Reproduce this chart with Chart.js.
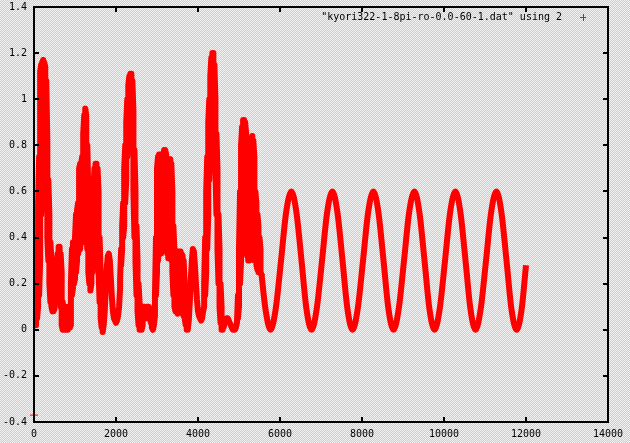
<!DOCTYPE html>
<html>
<head>
<meta charset="utf-8">
<script src="https://cdn.jsdelivr.net/npm/chart.js@4"></script>
<style>
  html, body { margin: 0; padding: 0; background: #e2e2e2; }
  canvas { display: block; }
</style>
</head>
<body>
<canvas id="plot" width="630" height="443"></canvas>
<script>
// sample positions of the irregular part (columns 0..5550)
const xs = [
  0, 25, 50, 75, 100, 125, 150, 175, 200, 225,
  250, 275, 300, 325, 350, 375, 400, 425, 450, 475,
  500, 525, 550, 575, 600, 625, 650, 675, 700, 725,
  750, 775, 800, 825, 850, 875, 900, 925, 950, 975,
  1000, 1025, 1050, 1075, 1100, 1125, 1150, 1175, 1200, 1225,
  1250, 1275, 1300, 1325, 1350, 1375, 1400, 1425, 1450, 1475,
  1500, 1525, 1550, 1575, 1600, 1625, 1650, 1675, 1700, 1725,
  1750, 1775, 1800, 1825, 1850, 1875, 1900, 1925, 1950, 1975,
  2000, 2025, 2050, 2075, 2100, 2125, 2150, 2175, 2200, 2225,
  2250, 2275, 2300, 2325, 2350, 2375, 2400, 2425, 2450, 2475,
  2500, 2525, 2550, 2575, 2600, 2625, 2650, 2675, 2700, 2725,
  2750, 2775, 2800, 2825, 2850, 2875, 2900, 2925, 2950, 2975,
  3000, 3025, 3050, 3075, 3100, 3125, 3150, 3175, 3200, 3225,
  3250, 3275, 3300, 3325, 3350, 3375, 3400, 3425, 3450, 3475,
  3500, 3525, 3550, 3575, 3600, 3625, 3650, 3675, 3700, 3725,
  3750, 3775, 3800, 3825, 3850, 3875, 3900, 3925, 3950, 3975,
  4000, 4025, 4050, 4075, 4100, 4125, 4150, 4175, 4200, 4225,
  4250, 4275, 4300, 4325, 4350, 4375, 4400, 4425, 4450, 4475,
  4500, 4525, 4550, 4575, 4600, 4625, 4650, 4675, 4700, 4725,
  4750, 4775, 4800, 4825, 4850, 4875, 4900, 4925, 4950, 4975,
  5000, 5025, 5050, 5075, 5100, 5125, 5150, 5175, 5200, 5225,
  5250, 5275, 5300, 5325, 5350, 5375, 5400, 5425, 5450, 5475,
  5500, 5525, 5550
];
// lower edge of the scattered band at each column
const lows = [
  0.27, 0.02, 0.02, 0.05, 0.1, 0.15, 0.3, 0.5, 0.6, 0.7,
  0.75, 0.7, 0.55, 0.4, 0.3, 0.2, 0.12, 0.1, 0.08, 0.08,
  0.09, 0.12, 0.15, 0.2, 0.22, 0.2, 0.1, 0.02, 0, 0,
  0, 0.02, 0, 0, 0.02, 0.01, 0.02, 0.15, 0.18, 0.2,
  0.22, 0.25, 0.3, 0.33, 0.35, 0.35, 0.4, 0.4, 0.38, 0.45,
  0.5, 0.45, 0.35, 0.25, 0.2, 0.17, 0.2, 0.25, 0.3, 0.35,
  0.4, 0.45, 0.35, 0.25, 0.12, 0.05, 0.01, -0.01, 0.02, 0.08,
  0.18, 0.27, 0.32, 0.33, 0.3, 0.22, 0.14, 0.08, 0.05, 0.04,
  0.03, 0.04, 0.06, 0.1, 0.18, 0.28, 0.35, 0.4, 0.45, 0.55,
  0.65, 0.75, 0.85, 0.9, 0.95, 0.9, 0.8, 0.6, 0.4, 0.3,
  0.15, 0.08, 0.02, 0, 0.02, 0, 0.02, 0.05, 0.06, 0.05,
  0.05, 0.07, 0.08, 0.06, 0.03, 0.01, 0, 0.02, 0.06, 0.15,
  0.25, 0.3, 0.38, 0.35, 0.33, 0.35, 0.4, 0.45, 0.4, 0.35,
  0.33, 0.31, 0.32, 0.33, 0.3, 0.25, 0.15, 0.1, 0.08, 0.08,
  0.07, 0.08, 0.08, 0.08, 0.08, 0.07, 0.06, 0.05, 0.02, 0,
  0, 0.04, 0.12, 0.22, 0.3, 0.35, 0.34, 0.28, 0.2, 0.13,
  0.08, 0.06, 0.05, 0.04, 0.05, 0.08, 0.1, 0.15, 0.25, 0.35,
  0.5, 0.65, 0.8, 0.95, 1.05, 1.05, 0.9, 0.7, 0.5, 0.35,
  0.2, 0.1, 0.03, 0, 0, 0.01, 0.03, 0.04, 0.05, 0.05,
  0.04, 0.03, 0.02, 0.01, 0, 0, 0, 0.01, 0.03, 0.05,
  0.1, 0.2, 0.3, 0.35, 0.4, 0.42, 0.4, 0.35, 0.32, 0.3,
  0.3, 0.32, 0.34, 0.35, 0.33, 0.3, 0.3, 0.28, 0.26, 0.25,
  0.25, 0.25, 0.24
];
// upper edge of the scattered band at each column
const highs = [
  0.27, 0.27, 0.3, 0.4, 0.55, 0.75, 1.12, 1.15, 1.16, 1.17,
  1.16, 1.14, 1.08, 0.82, 0.65, 0.5, 0.38, 0.3, 0.22, 0.2,
  0.2, 0.22, 0.28, 0.33, 0.36, 0.36, 0.33, 0.25, 0.12, 0.08,
  0.1, 0.1, 0.08, 0.1, 0.09, 0.1, 0.2, 0.35, 0.38, 0.38,
  0.4, 0.5, 0.52, 0.55, 0.7, 0.72, 0.72, 0.75, 0.85, 0.93,
  0.96, 0.93, 0.8, 0.6, 0.45, 0.38, 0.4, 0.5, 0.62, 0.7,
  0.72, 0.72, 0.7, 0.6, 0.4, 0.25, 0.12, 0.05, 0.02, 0.08,
  0.18, 0.27, 0.32, 0.33, 0.3, 0.22, 0.14, 0.08, 0.05, 0.04,
  0.03, 0.04, 0.06, 0.1, 0.22, 0.35, 0.45, 0.55, 0.7, 0.8,
  0.9, 1.0, 1.06, 1.1, 1.11, 1.11, 1.08, 0.95, 0.78, 0.6,
  0.45, 0.3, 0.2, 0.12, 0.1, 0.08, 0.1, 0.1, 0.1, 0.09,
  0.1, 0.1, 0.1, 0.09, 0.06, 0.02, 0, 0.02, 0.15, 0.4,
  0.7, 0.75, 0.76, 0.76, 0.75, 0.74, 0.76, 0.78, 0.78, 0.76,
  0.74, 0.73, 0.72, 0.74, 0.72, 0.6, 0.45, 0.35, 0.34, 0.34,
  0.34, 0.34, 0.34, 0.34, 0.33, 0.32, 0.3, 0.2, 0.15, 0.05,
  0, 0.04, 0.12, 0.22, 0.3, 0.35, 0.34, 0.28, 0.2, 0.13,
  0.08, 0.06, 0.05, 0.04, 0.05, 0.08, 0.2, 0.4, 0.6, 0.75,
  0.9, 1.0, 1.1, 1.18, 1.2, 1.2, 1.15, 1.0, 0.85, 0.7,
  0.5, 0.35, 0.2, 0.1, 0.02, 0.01, 0.03, 0.04, 0.05, 0.05,
  0.04, 0.03, 0.02, 0.01, 0, 0, 0, 0.01, 0.03, 0.15,
  0.35, 0.6, 0.8, 0.88, 0.91, 0.91, 0.9, 0.85, 0.75, 0.68,
  0.7, 0.78, 0.83, 0.84, 0.82, 0.75, 0.6, 0.55, 0.5, 0.45,
  0.4, 0.35, 0.24
];
// the regular oscillation after ~5500
const waveX = [
  5550, 5645, 5770, 5895, 6025, 6150, 6280, 6400, 6525, 6645,
  6770, 6895, 7025, 7150, 7280, 7400, 7525, 7645,
  7770, 7895, 8025, 8150, 8280, 8400, 8525, 8645,
  8770, 8895, 9025, 9150, 9280, 9400, 9525, 9645,
  9770, 9895, 10025, 10150, 10280, 10400, 10525, 10645,
  10770, 10895, 11025, 11150, 11280, 11400, 11525, 11645,
  11770, 11895, 12000
];
const waveY = [
  0.24, 0.09, 0, 0.09, 0.3, 0.51, 0.6, 0.51, 0.3, 0.09,
  0, 0.09, 0.3, 0.51, 0.6, 0.51, 0.3, 0.09,
  0, 0.09, 0.3, 0.51, 0.6, 0.51, 0.3, 0.09,
  0, 0.09, 0.3, 0.51, 0.6, 0.51, 0.3, 0.09,
  0, 0.09, 0.3, 0.51, 0.6, 0.51, 0.3, 0.09,
  0, 0.09, 0.3, 0.51, 0.6, 0.51, 0.3, 0.09,
  0, 0.09, 0.28
];
const strayX = [0];
const strayY = [-0.37];

const xTicks = [0, 2000, 4000, 6000, 8000, 10000, 12000, 14000];
const yTicks = [-0.4, -0.2, 0, 0.2, 0.4, 0.6, 0.8, 1, 1.2, 1.4];
const seriesLabel = '"kyori322-1-8pi-ro-0.0-60-1.dat" using 2';

// zig-zag between the lower and upper edge so the band is filled like the dense points
const bandPoints = [];
xs.forEach(function (x, i) {
    if (lows[i] === highs[i]) {
        bandPoints.push({ x: x, y: lows[i] });
    } else if (i % 2 === 0) {
        bandPoints.push({ x: x, y: lows[i] }, { x: x, y: highs[i] });
    } else {
        bandPoints.push({ x: x, y: highs[i] }, { x: x, y: lows[i] });
    }
});
const wavePoints = waveX.map(function (x, i) { return { x: x, y: waveY[i] }; });
const strayPoints = strayX.map(function (x, i) { return { x: x, y: strayY[i] }; });

const RED = '#ff0000';

// dithered grey background like the gnuplot gif
const stipple = (function () {
    const c = document.createElement('canvas');
    c.width = 2; c.height = 2;
    const g = c.getContext('2d');
    g.fillStyle = '#f4f4f4'; g.fillRect(0, 0, 2, 2);
    g.fillStyle = '#cbcbcb'; g.fillRect(1, 0, 1, 1); g.fillRect(0, 1, 1, 1);
    return c;
})();

const backgroundPlugin = {
    id: 'stippleBg',
    beforeDraw: function (chart) {
        const ctx = chart.ctx;
        ctx.save();
        ctx.fillStyle = ctx.createPattern(stipple, 'repeat');
        ctx.fillRect(0, 0, chart.width, chart.height);
        ctx.restore();
    }
};

const framePlugin = {
    id: 'frame',
    afterDatasetsDraw: function (chart) {
        const ctx = chart.ctx;
        const a = chart.chartArea;
        const sx = chart.scales.x, sy = chart.scales.y;
        ctx.save();
        ctx.strokeStyle = '#000';
        ctx.lineWidth = 2;
        ctx.strokeRect(a.left, a.top, a.right - a.left, a.bottom - a.top);
        ctx.beginPath();
        xTicks.forEach(function (v) {
            const px = Math.round(sx.getPixelForValue(v));
            ctx.moveTo(px, a.bottom); ctx.lineTo(px, a.bottom - 5);
            ctx.moveTo(px, a.top); ctx.lineTo(px, a.top + 5);
        });
        yTicks.forEach(function (v) {
            const py = Math.round(sy.getPixelForValue(v));
            ctx.moveTo(a.left, py); ctx.lineTo(a.left + 5, py);
            ctx.moveTo(a.right, py); ctx.lineTo(a.right - 5, py);
        });
        ctx.stroke();

        // key, top right inside the frame
        ctx.fillStyle = '#000';
        ctx.font = "10px 'DejaVu Sans Mono', monospace";
        ctx.textAlign = 'right';
        ctx.textBaseline = 'middle';
        ctx.fillText(seriesLabel, a.right - 46, a.top + 10);
        ctx.strokeStyle = RED;
        ctx.lineWidth = 1;
        ctx.beginPath();
        ctx.moveTo(a.right - 28, a.top + 10.5); ctx.lineTo(a.right - 22, a.top + 10.5);
        ctx.moveTo(a.right - 24.5, a.top + 7); ctx.lineTo(a.right - 24.5, a.top + 14);
        ctx.stroke();
        ctx.restore();
    }
};

Chart.defaults.font.family = "'DejaVu Sans Mono', monospace";
Chart.defaults.font.size = 10;
Chart.defaults.color = '#000';

function noPad(s) {
    s.paddingTop = 0; s.paddingBottom = 0; s.paddingLeft = 0; s.paddingRight = 0;
}

new Chart(document.getElementById('plot').getContext('2d'), {
    type: 'line',
    data: {
        datasets: [{
            label: seriesLabel,
            data: bandPoints,
            borderColor: RED,
            borderWidth: 6,
            borderJoinStyle: 'round',
            borderCapStyle: 'round',
            pointRadius: 0,
            tension: 0,
            fill: false
        }, {
            label: 'wave',
            data: wavePoints,
            borderColor: RED,
            borderWidth: 6,
            borderJoinStyle: 'round',
            pointRadius: 0,
            cubicInterpolationMode: 'monotone',
            fill: false
        }, {
            type: 'scatter',
            label: 'stray',
            data: strayPoints,
            borderColor: RED,
            backgroundColor: RED,
            borderWidth: 1,
            pointStyle: 'cross',
            pointRadius: 4,
            clip: false
        }]
    },
    options: {
        responsive: false,
        animation: false,
        layout: { autoPadding: false, padding: { top: 7, right: 22, left: 0, bottom: 0 } },
        scales: {
            x: {
                type: 'linear',
                min: 0,
                max: 14000,
                afterFit: function (s) { s.height = 21; noPad(s); },
                afterBuildTicks: function (s) { s.ticks = xTicks.map(function (v) { return { value: v }; }); },
                grid: { display: false, drawTicks: false },
                border: { display: false },
                ticks: { padding: 6, maxRotation: 0, callback: function (v) { return String(v); } }
            },
            y: {
                type: 'linear',
                min: -0.4,
                max: 1.4,
                afterFit: function (s) { s.width = 34; noPad(s); },
                afterBuildTicks: function (s) { s.ticks = yTicks.map(function (v) { return { value: v }; }); },
                grid: { display: false, drawTicks: false },
                border: { display: false },
                ticks: { padding: 7, callback: function (v) { return String(+v.toFixed(1)); } }
            }
        },
        plugins: {
            legend: { display: false },
            title: { display: false },
            tooltip: { enabled: false }
        }
    },
    plugins: [backgroundPlugin, framePlugin]
});
</script>
</body>
</html>
